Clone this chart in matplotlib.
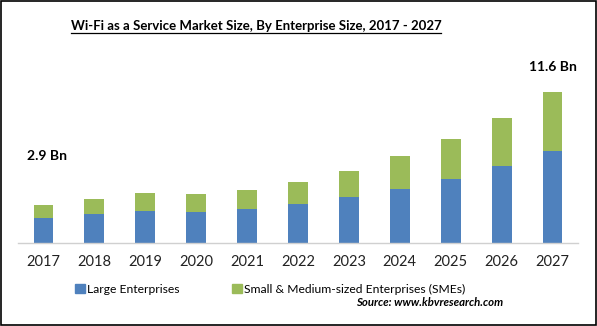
import matplotlib
matplotlib.use("Agg")
import matplotlib.pyplot as plt
from matplotlib.patches import Rectangle, Patch
from matplotlib.lines import Line2D

years = ["2017", "2018", "2019", "2020", "2021", "2022", "2023", "2024", "2025", "2026", "2027"]
large = [1.95, 2.25, 2.48, 2.41, 2.64, 3.02, 3.56, 4.18, 4.95, 5.95, 7.10]
totals = [2.92, 3.41, 3.87, 3.79, 4.10, 4.72, 5.56, 6.72, 8.00, 9.64, 11.60]
smes = [round(t - l, 2) for t, l in zip(totals, large)]
first_label = "2.9 Bn"
last_label = "11.6 Bn"

blue = "#4F81BD"
green = "#9BBB59"
font = "Lato"

plt.rcParams['font.family'] = [font, 'DejaVu Sans']

fig = plt.figure(figsize=(5.97, 3.26), dpi=100)
ax = fig.add_axes([18/597, 1 - 243/326, 560/597, (243 - 60)/326])

x = list(range(len(years)))
ax.bar(x, large, width=0.39, color=blue, label="Large Enterprises")
ax.bar(x, smes, bottom=large, width=0.39, color=green,
       label="Small & Medium-sized Enterprises (SMEs)")

ax.set_xlim(-0.5, 10.5)
ax.set_ylim(0, 14.07)
ax.set_xticks(x)
ax.set_xticklabels(years, fontsize=10.5, color="#222222")
ax.tick_params(axis='x', length=0, pad=9)
ax.set_yticks([])
for s in ["top", "right", "left"]:
    ax.spines[s].set_visible(False)
ax.spines["bottom"].set_color("#d0d0d0")
ax.spines["bottom"].set_linewidth(1)

ax.text(x[0] + 0.07, 6.7, first_label, ha='center', va='center', fontsize=10, fontweight='bold')
ax.text(x[-1], 13.5, last_label, ha='center', va='center', fontsize=10, fontweight='bold')

# Title with underline
t = fig.text(256/597, 1 - 26/326, "Wi-Fi as a Service Market Size, By Enterprise Size, 2017 - 2027",
             ha='center', va='center', fontsize=9.5, fontweight='bold')
fig.canvas.draw()
bb = t.get_window_extent(renderer=fig.canvas.get_renderer())
fw, fh = fig.bbox.width, fig.bbox.height
uy = (bb.y0 - 0.5) / fh
fig.add_artist(Line2D([bb.x0/fw, bb.x1/fw], [uy, uy], color='black', lw=0.9,
                      transform=fig.transFigure))

handles = [Patch(color=blue), Patch(color=green)]
fig.legend(handles, ["Large Enterprises", "Small & Medium-sized Enterprises (SMEs)"],
           ncol=2, loc='center', bbox_to_anchor=(270/597, 1 - 289/326), frameon=False,
           fontsize=8.7, handlelength=0.8, handleheight=0.8, handletextpad=0.15,
           columnspacing=4.4)

fig.text(503/597, 1 - 303/326, "Source: www.kbvresearch.com", ha='right', va='center',
         fontsize=8.2, fontweight='bold', style='italic')

fig.add_artist(Rectangle((0.001, 0.002), 0.997, 0.995, transform=fig.transFigure,
                         fill=False, edgecolor='black', lw=1.2))

fig.savefig("out.png", dpi=100)
